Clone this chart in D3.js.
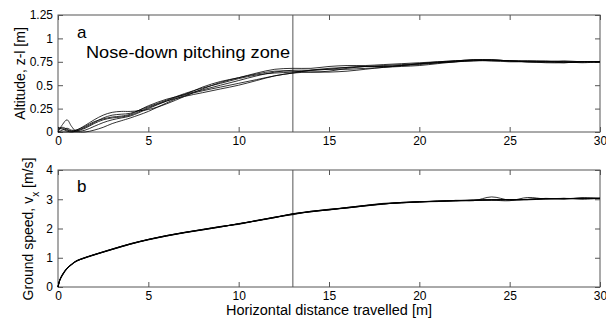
<!DOCTYPE html>
<html><head><meta charset="utf-8">
<script src="https://cdn.jsdelivr.net/npm/d3@7"></script>
<style>
html,body{margin:0;padding:0;background:#fff;}
svg text{font-family:"Liberation Sans",Arial,sans-serif;fill:#000;}
</style></head>
<body><svg id="c" width="606" height="322"></svg>
<script>
// ---------- data ----------
const xTicks = [0,5,10,15,20,25,30];
const altTicks = [0,0.25,0.5,0.75,1,1.25];
const altTickLabels = ["0","0.25","0.5","0.75","1","1.25"];
const spdTicks = [0,1,2,3,4];
const markerX = 13;

const altX = [0,0.25,0.5,0.75,1,1.5,2,2.5,3,3.5,4,5,6,7,8,9,10,11,12,13,14,15,16,17,18,19,20,21,22,23,24,25,26,27,28,29,30];
const alt1 = [0,0.08,0.13,0.06,0.01,0.02,0.06,0.10,0.13,0.15,0.17,0.25,0.33,0.40,0.45,0.50,0.55,0.60,0.64,0.66,0.66,0.67,0.69,0.70,0.71,0.72,0.73,0.74,0.75,0.76,0.76,0.75,0.75,0.74,0.74,0.75,0.75];
const alt2 = [0.05,0.04,0.02,0.01,0.02,0.07,0.13,0.18,0.21,0.22,0.22,0.24,0.30,0.38,0.46,0.53,0.58,0.62,0.65,0.65,0.64,0.65,0.68,0.70,0.70,0.71,0.73,0.75,0.76,0.77,0.77,0.76,0.75,0.75,0.76,0.75,0.75];
const alt3 = [0,0,0,0,0,0,0.02,0.05,0.09,0.12,0.15,0.22,0.31,0.39,0.44,0.48,0.52,0.56,0.60,0.63,0.64,0.64,0.65,0.67,0.69,0.70,0.71,0.73,0.75,0.77,0.77,0.76,0.76,0.75,0.75,0.75,0.75];
const alt4 = [0.02,0.05,0.03,0.01,0.01,0.04,0.09,0.13,0.15,0.16,0.18,0.26,0.33,0.38,0.42,0.46,0.50,0.55,0.60,0.63,0.66,0.68,0.69,0.70,0.70,0.71,0.72,0.74,0.76,0.77,0.76,0.76,0.75,0.75,0.74,0.75,0.75];
const alt5 = [0,0.02,0.04,0.02,0.02,0.06,0.11,0.14,0.16,0.17,0.19,0.28,0.35,0.40,0.48,0.54,0.58,0.63,0.67,0.68,0.68,0.70,0.71,0.71,0.72,0.73,0.74,0.75,0.76,0.77,0.77,0.76,0.75,0.75,0.75,0.75,0.75];
const alt6 = [0.04,0.03,0.01,0,0.01,0.05,0.10,0.15,0.18,0.19,0.20,0.27,0.34,0.41,0.47,0.52,0.57,0.61,0.63,0.64,0.66,0.67,0.67,0.68,0.69,0.71,0.73,0.74,0.75,0.76,0.77,0.76,0.76,0.76,0.75,0.74,0.75];

const spdX = [0,0.1,0.25,0.5,0.75,1,1.5,2,3,4,5,6,7,8,9,10,11,12,13,14,15,16,17,18,19,20,21,22,23,24,25,26,27,28,29,30];
const spd1 = [0,0.24,0.42,0.64,0.77,0.88,1.00,1.10,1.29,1.47,1.62,1.75,1.86,1.96,2.06,2.16,2.27,2.38,2.50,2.58,2.65,2.71,2.78,2.84,2.88,2.91,2.93,2.95,2.96,2.98,2.98,2.99,3.02,3.02,3.03,3.03];
const spd2 = [0,0.22,0.40,0.62,0.76,0.87,1.00,1.11,1.30,1.48,1.63,1.76,1.87,1.97,2.07,2.14,2.27,2.39,2.47,2.59,2.63,2.72,2.79,2.86,2.89,2.92,2.93,2.96,2.95,3.08,2.97,3.00,3.02,3.01,3.05,3.02];
const spd3 = [0,0.25,0.44,0.65,0.78,0.89,1.01,1.10,1.28,1.46,1.61,1.74,1.85,1.95,2.05,2.17,2.26,2.37,2.51,2.57,2.64,2.70,2.77,2.83,2.89,2.90,2.94,2.94,2.97,2.97,2.95,3.06,3.01,3.03,3.02,3.04];
const spd4 = [0,0.23,0.41,0.63,0.76,0.88,1.00,1.10,1.30,1.47,1.63,1.75,1.87,1.96,2.07,2.15,2.28,2.38,2.49,2.58,2.66,2.70,2.78,2.85,2.87,2.91,2.92,2.96,2.97,2.98,2.99,2.98,3.01,3.03,3.00,3.03];
const spd5 = [0,0.24,0.43,0.64,0.78,0.89,1.01,1.11,1.29,1.48,1.62,1.76,1.86,1.97,2.06,2.16,2.26,2.39,2.50,2.59,2.65,2.72,2.79,2.84,2.89,2.92,2.93,2.95,2.97,2.99,2.98,2.99,3.03,3.01,3.04,3.03];
const spd6 = [0,0.24,0.42,0.64,0.77,0.88,0.99,1.09,1.28,1.46,1.62,1.74,1.86,1.95,2.05,2.16,2.27,2.37,2.49,2.57,2.64,2.71,2.77,2.84,2.88,2.91,2.94,2.95,2.96,2.97,2.99,2.99,3.02,3.02,3.03,3.03];

// ---------- drawing ----------
const svg = d3.select("#c");
const L = 58, R = 600;
const x = d3.scaleLinear().domain([0,30]).range([L,R]);
const axisCol = "#555";

function panel(top, bottom, yDomain, yTicks, yLabels, xs, seriesList, letter, letterY) {
  const y = d3.scaleLinear().domain(yDomain).range([bottom, top]);
  const g = svg.append("g");
  g.append("rect").attr("x",L).attr("y",top).attr("width",R-L).attr("height",bottom-top)
    .attr("fill","none").attr("stroke",axisCol).attr("stroke-width",1);
  const fmt = d => yLabels ? yLabels[yTicks.indexOf(d)] : String(d);
  const styleAxis = sel => {
    sel.select(".domain").remove();
    sel.selectAll(".tick line").attr("stroke",axisCol);
    sel.selectAll(".tick text").attr("font-size","12px").attr("font-family","Liberation Sans, Arial, sans-serif").attr("fill","#000");
  };
  g.append("g").attr("transform",`translate(0,${bottom})`)
    .call(d3.axisBottom(x).tickValues(xTicks).tickSizeInner(-5).tickSizeOuter(0).tickPadding(4).tickFormat(d=>String(d)))
    .call(styleAxis);
  g.append("g").attr("transform",`translate(0,${top})`)
    .call(d3.axisTop(x).tickValues(xTicks).tickSizeInner(-5).tickSizeOuter(0).tickFormat(""))
    .call(styleAxis);
  g.append("g").attr("transform",`translate(${L},0)`)
    .call(d3.axisLeft(y).tickValues(yTicks).tickSizeInner(-5).tickSizeOuter(0).tickPadding(5).tickFormat(fmt))
    .call(styleAxis);
  g.append("g").attr("transform",`translate(${R},0)`)
    .call(d3.axisRight(y).tickValues(yTicks).tickSizeInner(-5).tickSizeOuter(0).tickFormat(""))
    .call(styleAxis);
  g.append("line").attr("x1",x(markerX)).attr("x2",x(markerX)).attr("y1",top).attr("y2",bottom)
    .attr("stroke",axisCol).attr("stroke-width",1);
  const line = d3.line().x((d,i)=>x(xs[i])).y(d=>y(d)).curve(d3.curveCatmullRom.alpha(0.5));
  seriesList.forEach(s => {
    g.append("path").attr("d",line(s)).attr("fill","none").attr("stroke","#000").attr("stroke-width",0.8);
  });
  g.append("text").attr("x",77).attr("y",letterY).attr("font-size","17px").text(letter);
  return y;
}

panel(15, 132, [0,1.25], altTicks, altTickLabels, altX, [alt1,alt2,alt3,alt4,alt5,alt6], "a", 38);
panel(170, 287, [0,4], spdTicks, null, spdX, [spd1,spd2,spd3,spd4,spd5,spd6], "b", 192);

svg.append("text").attr("x",86).attr("y",58).attr("font-size","16.5px")
  .attr("textLength",204).attr("lengthAdjust","spacingAndGlyphs").text("Nose-down pitching zone");

svg.append("text").attr("transform","translate(25,73.5) rotate(-90)").attr("text-anchor","middle")
  .attr("font-size","14px").text("Altitude, z-l [m]");
const gl = svg.append("text").attr("transform","translate(33,229) rotate(-90)").attr("text-anchor","middle")
  .attr("font-size","14px");
gl.append("tspan").text("Ground speed, v");
gl.append("tspan").attr("baseline-shift","sub").attr("font-size","10px").text("x");
gl.append("tspan").text(" [m/s]");

svg.append("text").attr("x",329).attr("y",315).attr("text-anchor","middle").attr("font-size","14px")
  .attr("textLength",206).attr("lengthAdjust","spacingAndGlyphs")
  .text("Horizontal distance travelled [m]");
</script></body></html>
